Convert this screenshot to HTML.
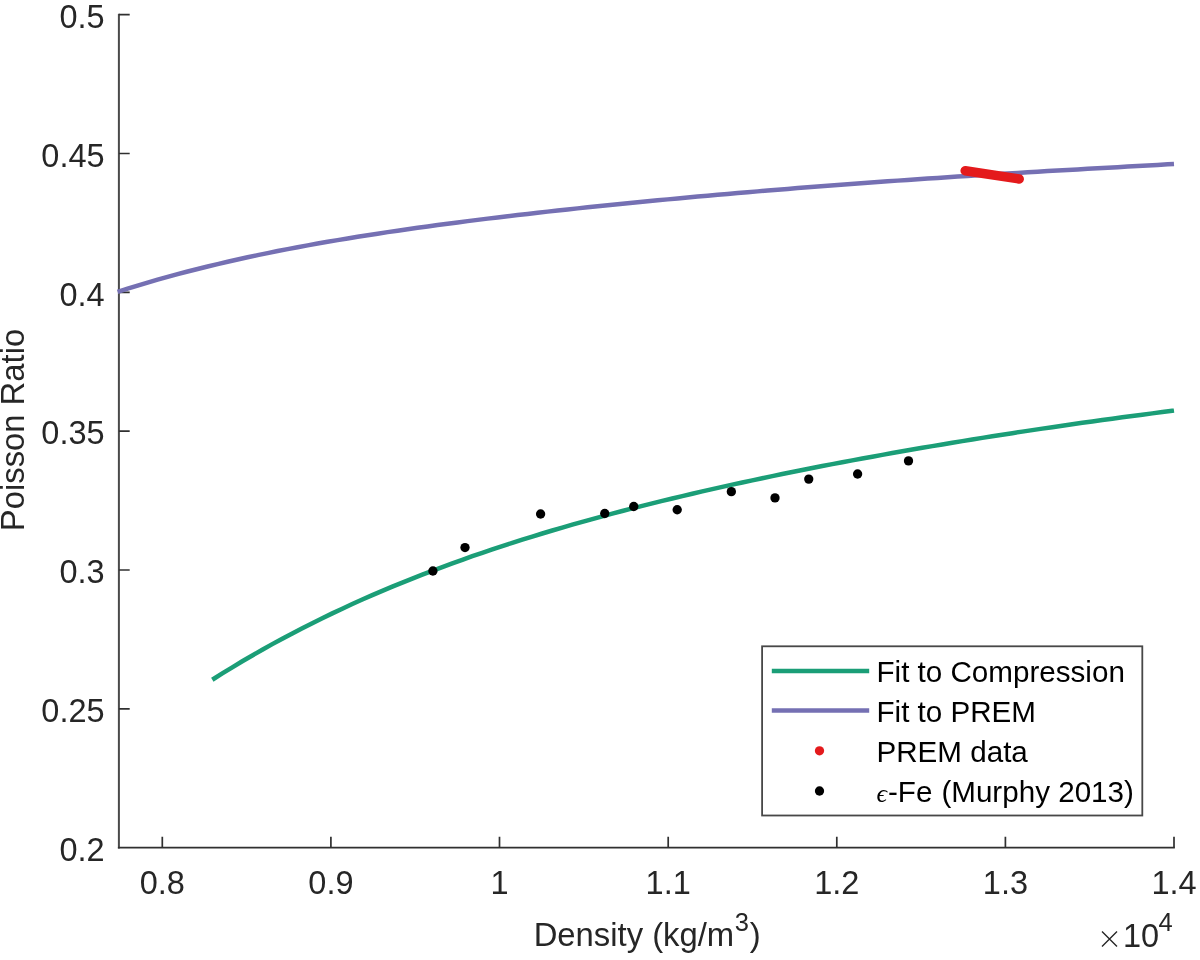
<!DOCTYPE html>
<html><head><meta charset="utf-8"><title>Poisson Ratio vs Density</title>
<style>
html,body{margin:0;padding:0;background:#fff;}
body{width:1200px;height:960px;overflow:hidden;}
svg{display:block;will-change:transform;}
text{font-family:"Liberation Sans",sans-serif;fill:#262626;}
.tk{font-size:32.5px;}
.lb{font-size:32.8px;}
.lg{font-size:29.6px;fill:#000;}
</style></head><body>
<svg width="1200" height="960" viewBox="0 0 1200 960">
<rect width="1200" height="960" fill="#fff"/>
<path d="M118.9,13.85 V848.5500000000001" fill="none" stroke="#4a4a4a" stroke-width="2"/>
<path d="M117.9,847.7 H1174.85" fill="none" stroke="#303030" stroke-width="1.7"/>
<path d="M118.9,708.9 h10.8 M118.9,570.0 h10.8 M118.9,431.2 h10.8 M118.9,292.4 h10.8 M118.9,153.5 h10.8 M118.9,14.7 h10.8 M162.3,847.7 v-10.9 M330.9,847.7 v-10.9 M499.5,847.7 v-10.9 M668.2,847.7 v-10.9 M836.8,847.7 v-10.9 M1005.4,847.7 v-10.9 M1174.0,847.7 v-10.9" fill="none" stroke="#303030" stroke-width="1.7"/>
<path d="M212.3,679.76 L222.3,673.45 L232.3,667.30 L242.3,661.30 L252.3,655.44 L262.3,649.73 L272.3,644.15 L282.3,638.71 L292.3,633.40 L302.3,628.21 L312.3,623.15 L322.3,618.21 L332.3,613.38 L342.3,608.67 L352.3,604.06 L362.3,599.56 L372.3,595.17 L382.3,590.87 L392.3,586.67 L402.3,582.57 L412.3,578.56 L422.3,574.63 L432.3,570.79 L442.3,567.04 L452.3,563.36 L462.3,559.76 L472.3,556.24 L482.3,552.79 L492.3,549.41 L502.3,546.10 L512.3,542.86 L522.3,539.68 L532.3,536.56 L542.3,533.51 L552.3,530.51 L562.3,527.57 L572.3,524.68 L582.3,521.85 L592.3,519.07 L602.3,516.33 L612.3,513.65 L622.3,511.01 L632.3,508.42 L642.3,505.87 L652.3,503.36 L662.3,500.89 L672.3,498.46 L682.3,496.08 L692.3,493.72 L702.3,491.41 L712.3,489.13 L722.3,486.88 L732.3,484.67 L742.3,482.49 L752.3,480.33 L762.3,478.21 L772.3,476.12 L782.3,474.06 L792.3,472.03 L802.3,470.02 L812.3,468.04 L822.3,466.08 L832.3,464.15 L842.3,462.24 L852.3,460.36 L862.3,458.50 L872.3,456.67 L882.3,454.85 L892.3,453.06 L902.3,451.29 L912.3,449.54 L922.3,447.82 L932.3,446.11 L942.3,444.42 L952.3,442.76 L962.3,441.11 L972.3,439.48 L982.3,437.87 L992.3,436.28 L1002.3,434.72 L1012.3,433.16 L1022.3,431.63 L1032.3,430.12 L1042.3,428.62 L1052.3,427.15 L1062.3,425.69 L1072.3,424.25 L1082.3,422.83 L1092.3,421.42 L1102.3,420.04 L1112.3,418.67 L1122.3,417.32 L1132.3,415.99 L1142.3,414.67 L1152.3,413.38 L1162.3,412.10 L1172.3,410.84 L1174.0,410.63" fill="none" stroke="#1b9e77" stroke-width="4.5" stroke-linejoin="round"/>
<path d="M117.6,291.87 L127.6,288.67 L137.6,285.57 L147.6,282.58 L157.6,279.68 L167.6,276.87 L177.6,274.14 L187.6,271.51 L197.6,268.95 L207.6,266.47 L217.6,264.07 L227.6,261.74 L237.6,259.48 L247.6,257.29 L257.6,255.16 L267.6,253.09 L277.6,251.08 L287.6,249.12 L297.6,247.22 L307.6,245.37 L317.6,243.56 L327.6,241.81 L337.6,240.10 L347.6,238.43 L357.6,236.80 L367.6,235.21 L377.6,233.66 L387.6,232.14 L397.6,230.66 L407.6,229.21 L417.6,227.79 L427.6,226.41 L437.6,225.04 L447.6,223.71 L457.6,222.40 L467.6,221.12 L477.6,219.86 L487.6,218.62 L497.6,217.41 L507.6,216.22 L517.6,215.04 L527.6,213.89 L537.6,212.75 L547.6,211.63 L557.6,210.53 L567.6,209.44 L577.6,208.37 L587.6,207.32 L597.6,206.28 L607.6,205.25 L617.6,204.24 L627.6,203.24 L637.6,202.26 L647.6,201.29 L657.6,200.33 L667.6,199.38 L677.6,198.44 L687.6,197.52 L697.6,196.61 L707.6,195.71 L717.6,194.82 L727.6,193.94 L737.6,193.07 L747.6,192.22 L757.6,191.37 L767.6,190.54 L777.6,189.71 L787.6,188.90 L797.6,188.10 L807.6,187.30 L817.6,186.52 L827.6,185.75 L837.6,184.99 L847.6,184.23 L857.6,183.49 L867.6,182.76 L877.6,182.04 L887.6,181.33 L897.6,180.62 L907.6,179.93 L917.6,179.25 L927.6,178.57 L937.6,177.91 L947.6,177.25 L957.6,176.60 L967.6,175.96 L977.6,175.33 L987.6,174.71 L997.6,174.09 L1007.6,173.49 L1017.6,172.89 L1027.6,172.29 L1037.6,171.70 L1047.6,171.12 L1057.6,170.54 L1067.6,169.96 L1077.6,169.39 L1087.6,168.83 L1097.6,168.26 L1107.6,167.70 L1117.6,167.14 L1127.6,166.57 L1137.6,166.01 L1147.6,165.45 L1157.6,164.88 L1167.6,164.31 L1174.0,163.94" fill="none" stroke="#7570b3" stroke-width="4.5" stroke-linejoin="round"/>
<line x1="965.2" y1="170.8" x2="1019.2" y2="179" stroke="#e41a1c" stroke-width="9.5" stroke-linecap="round"/>
<circle cx="432.9" cy="571" r="4.65" fill="#000"/>
<circle cx="465" cy="547.55" r="4.65" fill="#000"/>
<circle cx="540.6" cy="514" r="4.65" fill="#000"/>
<circle cx="604.75" cy="513.5" r="4.65" fill="#000"/>
<circle cx="633.75" cy="506.5" r="4.65" fill="#000"/>
<circle cx="677.2" cy="509.75" r="4.65" fill="#000"/>
<circle cx="731.35" cy="491.65" r="4.65" fill="#000"/>
<circle cx="775" cy="497.9" r="4.65" fill="#000"/>
<circle cx="808.75" cy="479.1" r="4.65" fill="#000"/>
<circle cx="857.6" cy="474" r="4.65" fill="#000"/>
<circle cx="908.5" cy="460.9" r="4.65" fill="#000"/>
<text class="tk" transform="translate(104.6,860.9) scale(1,1.04)" text-anchor="end">0.2</text>
<text class="tk" transform="translate(104.6,722.1) scale(1,1.04)" text-anchor="end">0.25</text>
<text class="tk" transform="translate(104.6,583.2) scale(1,1.04)" text-anchor="end">0.3</text>
<text class="tk" transform="translate(104.6,444.4) scale(1,1.04)" text-anchor="end">0.35</text>
<text class="tk" transform="translate(104.6,305.6) scale(1,1.04)" text-anchor="end">0.4</text>
<text class="tk" transform="translate(104.6,166.7) scale(1,1.04)" text-anchor="end">0.45</text>
<text class="tk" transform="translate(104.6,27.9) scale(1,1.04)" text-anchor="end">0.5</text>
<text class="tk" transform="translate(162.3,894.1) scale(1,1.04)" text-anchor="middle">0.8</text>
<text class="tk" transform="translate(330.9,894.1) scale(1,1.04)" text-anchor="middle">0.9</text>
<text class="tk" transform="translate(499.5,894.1) scale(1,1.04)" text-anchor="middle">1</text>
<text class="tk" transform="translate(668.2,894.1) scale(1,1.04)" text-anchor="middle">1.1</text>
<text class="tk" transform="translate(836.8,894.1) scale(1,1.04)" text-anchor="middle">1.2</text>
<text class="tk" transform="translate(1005.4,894.1) scale(1,1.04)" text-anchor="middle">1.3</text>
<text class="tk" transform="translate(1174.0,894.1) scale(1,1.04)" text-anchor="middle">1.4</text>
<text class="lb" x="533.7" y="946.3">Density (kg/m<tspan font-size="25.5" dy="-15.3" dx="0.5">3</tspan><tspan dy="15.3" dx="0.8">)</tspan></text>
<text class="lb" transform="translate(23.8,430) rotate(-90)" text-anchor="middle">Poisson Ratio</text>
<path d="M1102,931.6 L1117,946.4 M1117,931.6 L1102,946.4" stroke="#262626" stroke-width="1.4" fill="none"/>
<text class="tk" x="1123" y="946.8">10</text>
<text x="1158.6" y="931.3" font-size="25.5">4</text>
<rect x="762.1" y="646.3" width="380.2" height="169.2" fill="#fff" stroke="#484848" stroke-width="1.8"/>
<line x1="771.8" y1="670.9" x2="869.2" y2="670.9" stroke="#1b9e77" stroke-width="4.5"/>
<line x1="771.8" y1="710.6" x2="869.2" y2="710.6" stroke="#7570b3" stroke-width="4.5"/>
<circle cx="819.5" cy="750.8" r="4.65" fill="#e41a1c"/>
<circle cx="819.5" cy="791" r="4.65" fill="#000"/>
<text class="lg" x="876.5" y="682.4">Fit to Compression</text>
<text class="lg" x="876.5" y="722">Fit to PREM</text>
<text class="lg" x="876.5" y="762">PREM data</text>
<text class="lg" x="876.5" y="802"><tspan font-family="Liberation Serif" font-style="italic" font-size="26">ϵ</tspan><tspan dx="1">-Fe</tspan> <tspan dx="0.8">(Murphy</tspan> 2013)</text>
</svg></body></html>
